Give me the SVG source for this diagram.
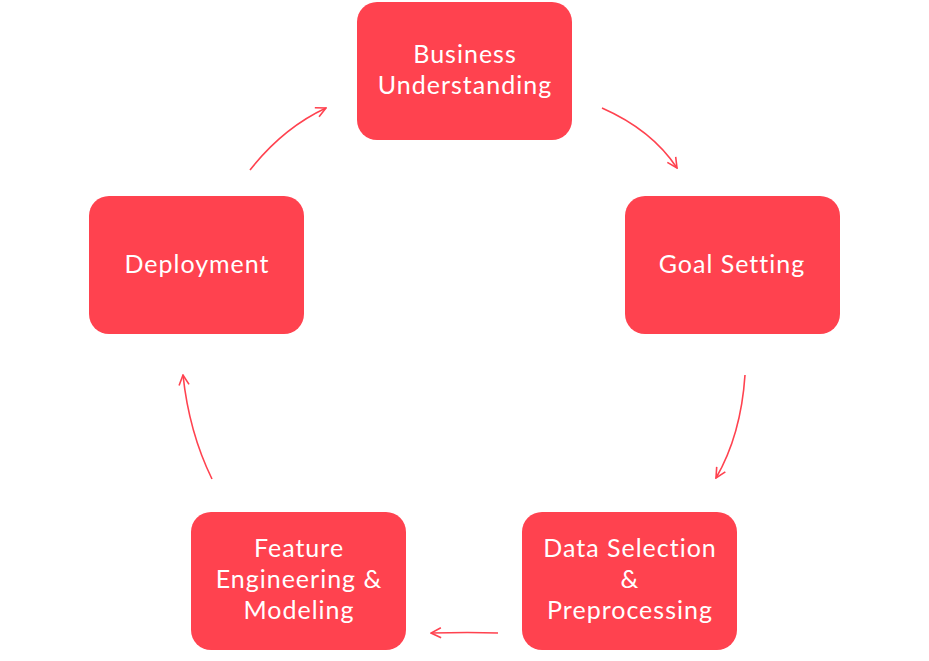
<svg xmlns="http://www.w3.org/2000/svg" width="929" height="661" viewBox="0 0 929 661">
<style>
.box{fill:#FF424F;}
.lbl{fill:#FFFFFF;font-family:Lato,"Open Sans","Liberation Sans",sans-serif;font-size:25px;text-anchor:middle;letter-spacing:1px;}
.con{fill:none;stroke:#FF424F;stroke-width:1.6;marker-end:url(#arr);}
</style>
<defs>
<marker id="arr" viewBox="0 0 12 12" refX="11" refY="6" markerWidth="12" markerHeight="12" markerUnits="userSpaceOnUse" orient="auto">
<path d="M1,1 L11,6 L1,11" fill="none" stroke="#FF424F" stroke-width="1.6"/>
</marker>
</defs>
<rect width="929" height="661" fill="#FFFFFF"/>
<g id="business-understanding">
<rect class="box" x="357" y="2" width="215" height="138" rx="20"/>
<text class="lbl" x="465" y="63">Business</text>
<text class="lbl" x="465" y="94">Understanding</text>
</g>
<g id="goal-setting">
<rect class="box" x="625" y="196" width="215" height="138" rx="20"/>
<text class="lbl" x="732" y="273">Goal Setting</text>
</g>
<g id="data-selection">
<rect class="box" x="522" y="512" width="215" height="138" rx="20"/>
<text class="lbl" x="630" y="557">Data Selection</text>
<text class="lbl" x="630" y="588">&amp;</text>
<text class="lbl" x="630" y="619">Preprocessing</text>
</g>
<g id="feature-engineering">
<rect class="box" x="191" y="512" width="215" height="138" rx="20"/>
<text class="lbl" x="299" y="557">Feature</text>
<text class="lbl" x="299" y="588">Engineering &amp;</text>
<text class="lbl" x="299" y="619">Modeling</text>
</g>
<g id="deployment">
<rect class="box" x="89" y="196" width="215" height="138" rx="20"/>
<text class="lbl" x="197" y="273">Deployment</text>
</g>
<g id="connectors">
<path class="con" d="M250,170 Q283,128 326,108"/>
<path class="con" d="M602,108 Q652,130 677,168"/>
<path class="con" d="M745,375 Q741,435 716,478"/>
<path class="con" d="M498,633 Q470,632 431,633"/>
<path class="con" d="M212,479 Q189,432 183,375"/>
</g>
</svg>
